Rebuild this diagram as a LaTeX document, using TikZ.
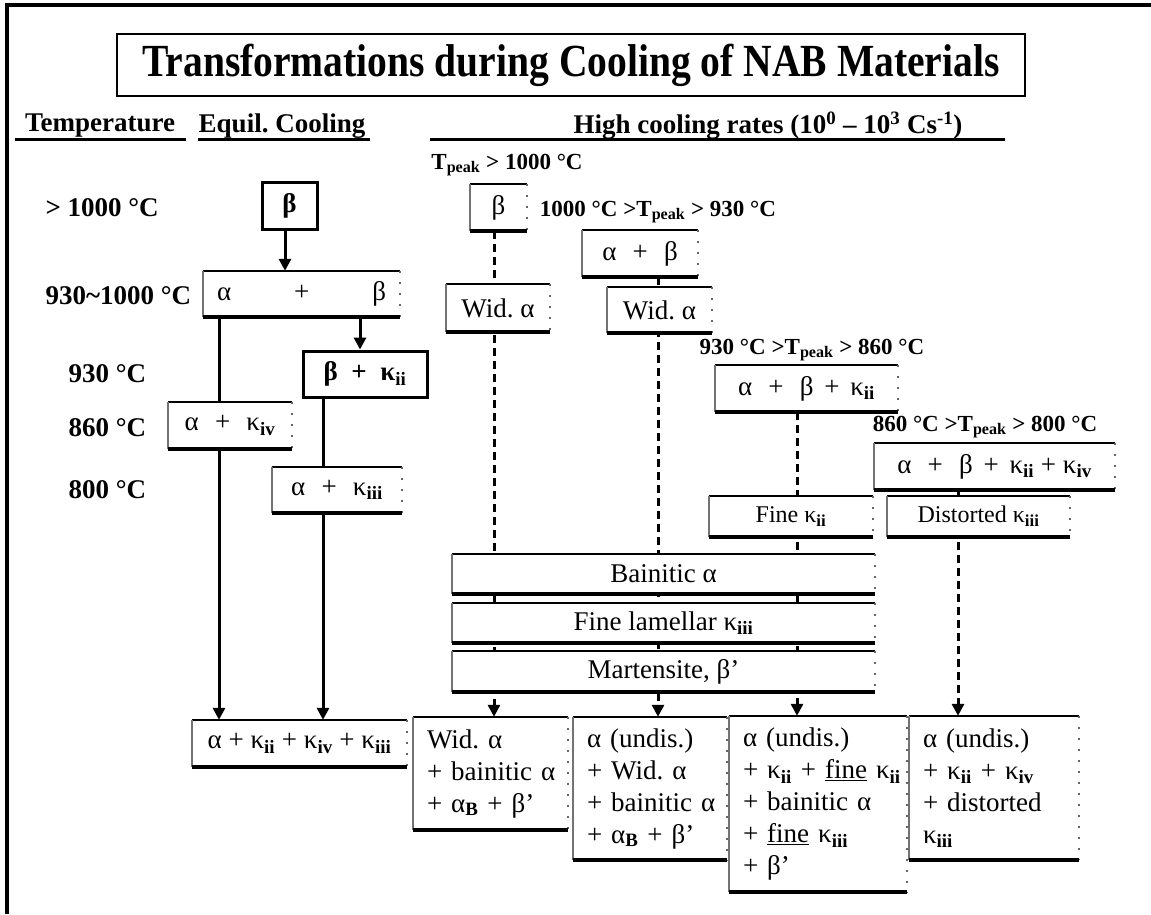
\documentclass[tikz,border=0pt]{standalone}
\usepackage{fontspec}
\setmainfont{Liberation Serif}
\usetikzlibrary{arrows.meta,backgrounds}
\frenchspacing

\newcommand{\sbs}[1]{\textsubscript{\textbf{#1}}}
\newcommand{\Tpk}{T\textsubscript{peak}}
\newcommand{\bodyfont}{\fontsize{27}{32}\selectfont}
\newcommand{\smallbody}{\fontsize{24}{28}\selectfont}
\newcommand{\lblfont}{\fontsize{27}{32}\selectfont\bfseries}
\newcommand{\pkfont}{\fontsize{23}{28}\selectfont\bfseries}

\begin{document}
\begin{tikzpicture}[x=1pt, y=-1pt,
    box/.style={fill=white, inner sep=0pt, font=\bodyfont},
    res/.style={box, align=left, inner xsep=0pt, execute at begin node={\leftskip=14pt}},
    thickbox/.style={draw, line width=3pt, fill=white, inner sep=0pt, font=\lblfont},
    title/.style={draw, line width=2pt, inner sep=0pt, font=\fontsize{46}{52}\selectfont\bfseries},
    hdr/.style={font=\lblfont},
    temp/.style={font=\lblfont, anchor=west},
    pk/.style={font=\pkfont},
    topedge/.style={black, line width=1.5pt},
    leftedge/.style={black!55, line width=2pt},
    rightedge/.style={black!60, line width=1.5pt, dash pattern=on 2pt off 9pt},
    botedge/.style={black, line width=3.5pt},
    uline/.style={line width=3pt},
    arr/.style={line width=3pt, -{Triangle[length=12pt, width=12pt]}},
    darr/.style={arr, dash pattern=on 8pt off 5pt}
]
    \useasboundingbox (0,0) rectangle (1151,914);

    % frame and title
    \draw[line width=4pt] (7,914) -- (7,5) -- (1151,5);
    \node[title, minimum width=908, minimum height=62] (ttl) at (571,65) {\scalebox{0.86}[1]{Transformations during Cooling of NAB Materials}};

    % column headers
    \node[hdr] (hdT) at (100,126) {Temperature};
    \node[hdr] (hdE) at (282,126) {Equil. Cooling};
    \node[hdr] (hdH) at (768,126) {High cooling rates (10\textsuperscript{0} – 10\textsuperscript{3} Cs\textsuperscript{-1})};
    \draw[uline] (15,139) -- (186,139);
    \draw[uline] (198,139) -- (370,139);
    \draw[uline] (430,139) -- (1005,139);

    % temperatures
    \node[temp] (t1) at (42,208) {> 1000 °C};
    \node[temp] (t2) at (42,296) {930\textasciitilde1000 °C};
    \node[temp] (t3) at (65,374) {930 °C};
    \node[temp] (t4) at (65,428) {860 °C};
    \node[temp] (t5) at (65,490) {800 °C};

    % equilibrium cooling
    \node[thickbox, minimum width=55, minimum height=47] (eb) at (289.5,205.5) {β};
    \node[box, minimum width=197, minimum height=46, text width=169, inner xsep=14, align=left] (eab) at (301.5,294) {α\hfill+\hfill β};
    \node[thickbox, minimum width=124, minimum height=46] (ebk) at (365,374) {β\hspace{0.5em}+\hspace{0.5em}κ\sbs{ii}};
    \node[box, minimum width=124, minimum height=47] (eak4) at (230,425.5) {α\hspace{0.6em}+\hspace{0.6em}κ\sbs{iv}};
    \node[box, minimum width=130, minimum height=46] (eak3) at (337,490) {α\hspace{0.6em}+\hspace{0.6em}κ\sbs{iii}};
    \node[box, minimum width=215, minimum height=47] (efin) at (299.5,743.5) {α + κ\sbs{ii} + κ\sbs{iv} + κ\sbs{iii}};

    % high cooling rates
    \node[pk] (lp1) at (507,165) {\Tpk{} > 1000 °C};
    \node[box, minimum width=57, minimum height=47] (hb) at (498.5,207.5) {β};
    \node[pk] (lp2) at (658,212) {1000 °C >\Tpk{} > 930 °C};
    \node[box, minimum width=116, minimum height=47] (hab) at (640,253.5) {α\hspace{0.6em}+\hspace{0.6em}β};
    \node[box, minimum width=104, minimum height=48] (hw1) at (498,308) {Wid. α};
    \node[box, minimum width=105, minimum height=46] (hw2) at (659.5,310) {Wid. α};
    \node[pk] (lp3) at (812,350) {930 °C >\Tpk{} > 860 °C};
    \node[box, minimum width=183, minimum height=47] (habk) at (806.5,388.5) {α\hspace{0.6em}+\hspace{0.6em}β\hspace{0.4em}+\hspace{0.4em}κ\sbs{ii}};
    \node[pk] (lp4) at (985,427) {860 °C >\Tpk{} > 800 °C};
    \node[box, minimum width=241, minimum height=47] (habkk) at (994.5,466.5) {α\hspace{0.6em}+\hspace{0.6em}β\hspace{0.4em}+\hspace{0.4em}κ\sbs{ii} + κ\sbs{iv}};
    \node[box, font=\smallbody, minimum width=164, minimum height=41] (hfk) at (791,516.5) {Fine κ\sbs{ii}};
    \node[box, font=\smallbody, minimum width=183, minimum height=41] (hdk) at (978.5,516.5) {Distorted κ\sbs{iii}};
    \node[box, minimum width=423, minimum height=40] (bai) at (663.5,574) {Bainitic α};
    \node[box, minimum width=423, minimum height=40] (fla) at (663.5,623) {Fine lamellar κ\sbs{iii}};
    \node[box, minimum width=423, minimum height=41] (mar) at (663.5,671.5) {Martensite, β’};

    % resulting microstructures
    \node[res, text width=155, minimum height=113] (b1) at (490.5,773.5) {Wid. α\\+ bainitic α\\+ α\sbs{B} + β’};
    \node[res, text width=154, minimum height=143] (b2) at (650,788.5) {α (undis.)\\+ Wid. α\\+ bainitic α\\+ α\sbs{B} + β’};
    \node[res, text width=178, minimum height=176] (b3) at (818,804) {α (undis.)\\+ κ\sbs{ii} + \underline{fine} κ\sbs{ii}\\+ bainitic α\\+ \underline{fine} κ\sbs{iii}\\+ β’};
    \node[res, text width=170, minimum height=144] (b4) at (994,788) {α (undis.)\\+ κ\sbs{ii} + κ\sbs{iv}\\+ distorted\\κ\sbs{iii}};

    % box edges
    \foreach \n in {eab,eak4,eak3,efin,hb,hab,hw1,hw2,habk,habkk,hfk,hdk,bai,fla,mar,b1,b2,b3,b4} {
        \draw[topedge] (\n.north west) -- (\n.north east);
        \draw[leftedge] (\n.north west) -- (\n.south west);
        \draw[rightedge] (\n.north east) -- (\n.south east);
        \draw[botedge] (\n.south west) -- (\n.south east);
    }

    % connectors
    \begin{pgfonlayer}{background}
        \coordinate (ca) at (285,0);
        \coordinate (cb) at (360,0);
        \coordinate (cl) at (219,0);
        \coordinate (cr) at (323,0);
        \coordinate (c1) at (494,0);
        \coordinate (c2) at (658,0);
        \coordinate (c3) at (797,0);
        \coordinate (c4) at (958,0);
        \draw[arr] (eb.south -| ca) -- (eab.north -| ca);
        \draw[arr] (eab.south -| cb) -- (ebk.north -| cb);
        \draw[arr] (eab.south -| cl) -- (efin.north -| cl);
        \draw[arr] (ebk.south -| cr) -- (efin.north -| cr);
        \draw[darr] (hb.south -| c1) -- (b1.north -| c1);
        \draw[darr] (hab.south -| c2) -- (b2.north -| c2);
        \draw[darr] (habk.south -| c3) -- (b3.north -| c3);
        \draw[darr] (habkk.south -| c4) -- (b4.north -| c4);
    \end{pgfonlayer}
\end{tikzpicture}
\end{document}
